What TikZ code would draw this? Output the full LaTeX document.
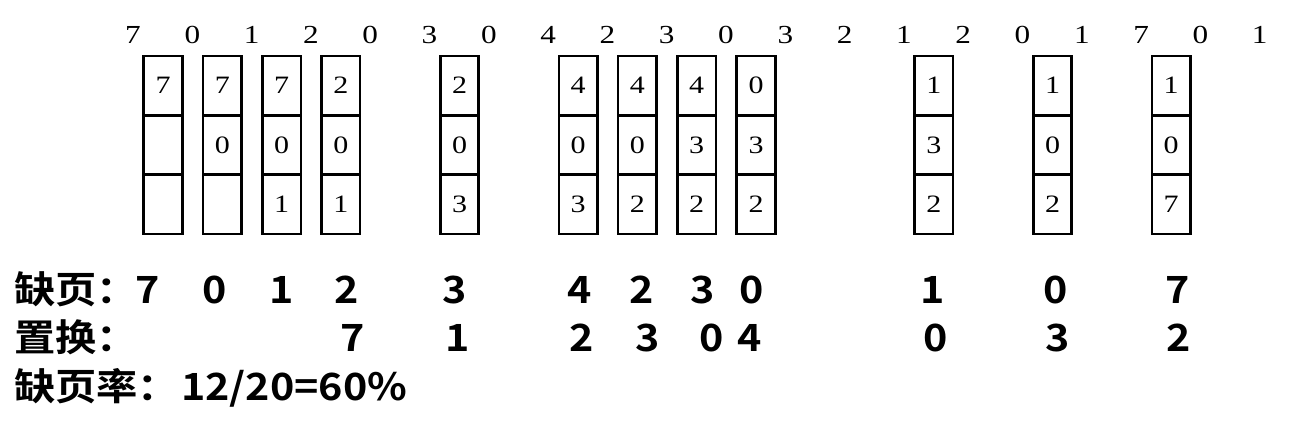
\documentclass[tikz,border=0pt]{standalone}
\usepackage{fontspec}
\usepackage{tikz}
\usetikzlibrary{positioning}
\newfontfamily\seqfont{Liberation Serif}[FakeStretch=1.2]
\newfontfamily\cjk{Noto Sans CJK SC Bold}[FakeStretch=1.1]

\begin{document}
\begin{tikzpicture}[x=1pt, y=-1pt,
    seq/.style={font=\seqfont\fontsize{26}{26}\selectfont, anchor=base, inner sep=0pt},
    cell/.style={draw, line width=2.6pt, minimum width=38.5pt, minimum height=59.3pt,
      outer sep=0pt, inner sep=0pt, font=\seqfont\fontsize{25}{25}\selectfont},
    big/.style={font=\cjk\fontsize{37.5}{37.5}\selectfont, anchor=base, inner sep=0pt}]
  \useasboundingbox (0,0) rectangle (1296,423);
  % reference string
  \foreach \r [count=\i from 0] in {7,0,1,2,0,3,0,4,2,3,0,3,2,1,2,0,1,7,0,1}
    \node[seq] (ref\i) at ({133+59.3*\i},43.5) {\r};
  % frames after each page fault
  \foreach \k/\a/\b/\c in {0/7//, 1/7/0/, 2/7/0/1, 3/2/0/1, 5/2/0/3, 7/4/0/3, 8/4/0/2,
      9/4/3/2, 10/0/3/2, 13/1/3/2, 15/1/0/2, 17/1/0/7} {
    \node[cell] (frame\k-1) at ({163+59.3*\k},85.7) {\a};
    \node[cell, below=0pt of frame\k-1] (frame\k-2) {\b};
    \node[cell, below=0pt of frame\k-2] (frame\k-3) {\c};
  }
  % faults, replaced pages, rate
  \node[big, anchor=base west] (misslabel) at (14,303) {缺页：};
  \foreach \x/\p [count=\i] in {148/7, 215/0, 282/1, 347/2, 455/3, 580/4, 642/2, 703/3,
      752/0, 933/1, 1056/0, 1178/7}
    \node[big] (miss\i) at (\x,303) {\p};
  \node[big, anchor=base west] (replabel) at (14,351) {置换：};
  \foreach \x/\p [count=\i] in {353/7, 458/1, 582/2, 648/3, 712/0, 750/4, 936/0, 1058/3, 1179/2}
    \node[big] (rep\i) at (\x,351) {\p};
  \node[big, anchor=base west] (ratelabel) at (14,400) {缺页率：};
  \node[big, anchor=base west] (rate) at (181,400) {12/20=60\%};
\end{tikzpicture}
\end{document}
